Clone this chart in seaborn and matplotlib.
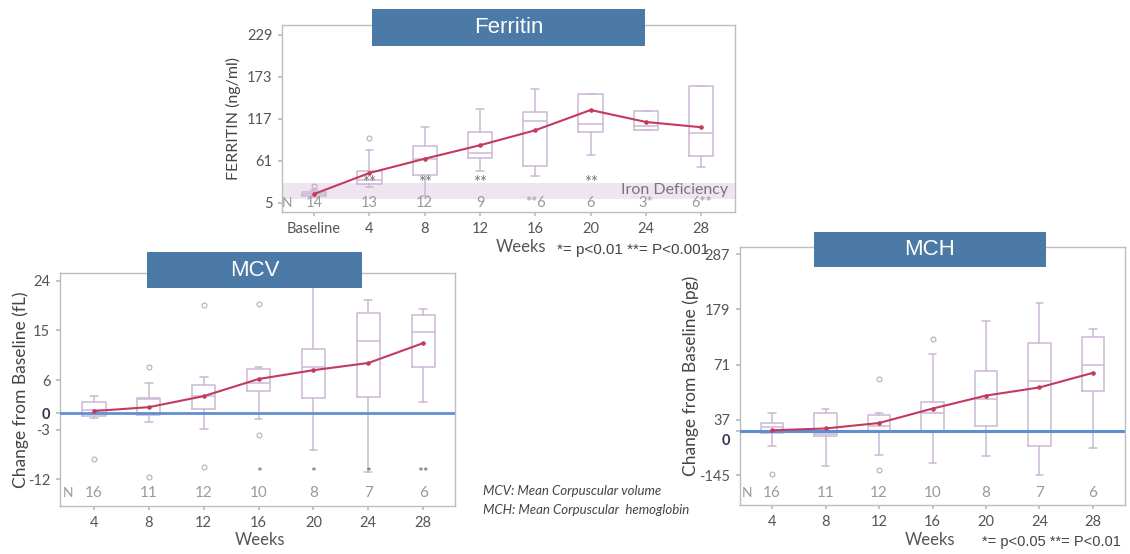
import numpy as np
import matplotlib
matplotlib.use("Agg")
import matplotlib.pyplot as plt
import matplotlib.transforms as mtransforms
import seaborn as sns
from matplotlib.patches import Rectangle

# ---------------- data ----------------
fer_weeks = ["Baseline", "4", "8", "12", "16", "20", "24", "28"]
fer_n = ["14", "13", "12", "9", "**6", "6", "3*", "6**"]
fer_stars = ["", "**", "**", "**", "", "**", "", ""]
fer_mean = [17, 45, 64, 82, 102, 129, 113, 106]
fer_med = [17, 36, 64, 72, 114, 110, 108, 98]
fer_q1 = [14, 30, 42, 65, 54, 100, 102, 68]
fer_q3 = [20, 48, 81, 100, 126, 150, 128, 161]
fer_wlo = [13, 26, 14, 48, 41, 69, 102, 53]
fer_whi = [22, 76, 106, 130, 157, 150, 128, 161]
fer_fliers = [[28], [92], [], [], [], [], [], []]
fer_yticks = [5, 61, 117, 173, 229]
iron_def = (10, 32)

mcv_weeks = ["4", "8", "12", "16", "20", "24", "28"]
mcv_n = ["16", "11", "12", "10", "8", "7", "6"]
mcv_stars = ["", "", "", "*", "*", "*", "**"]
mcv_mean = [0.4, 1.1, 3.1, 6.2, 7.8, 9.1, 12.7]
mcv_med = [0.6, 2.5, 3.1, 5.5, 8.4, 13.1, 14.7]
mcv_q1 = [-0.5, -0.3, 0.7, 4.0, 2.7, 2.9, 8.4]
mcv_q3 = [2.0, 2.7, 5.1, 8.0, 11.6, 18.1, 17.8]
mcv_wlo = [-0.9, -1.6, -2.9, -1.1, -6.7, -10.7, 2.0]
mcv_whi = [3.1, 5.5, 6.5, 8.4, 27.0, 20.5, 18.9]
mcv_fliers = [[-8.3], [8.4, -11.6], [19.6, -9.8], [19.8, -4.0], [], [], []]
mcv_yticks = [-12, -3, 0, 6, 15, 24]

mch_weeks = ["4", "8", "12", "16", "20", "24", "28"]
mch_n = ["16", "11", "12", "10", "8", "7", "6"]
mch_mean = [3, 9, 27, 44, 52, 57, 66]
mch_med = [14, -10, 18, 41, 50, 61, 71]
mch_q1 = [-6, -16, -2, -4, 18, -49, 55]
mch_q3 = [27, 41, 40, 48, 67, 113, 125]
mch_wlo = [-49, -115, -77, -104, -81, -143, -55]
mch_whi = [41, 44, 41, 91, 157, 191, 140]
mch_fliers = [[-140], [], [62, -129], [122], [], [], []]
mch_yticks = [-145, 0, 37, 71, 179, 287]
mch_anchor = [-145, 37, 71, 179, 287]   # axis labels equally spaced in the original

# ---------------- style ----------------
sns.set_theme(style="white")
plt.rcParams['font.family'] = ['Lato', 'DejaVu Sans']

BOX_C = "#cdb8d6"
MEAN_C = "#c23a5e"
BLUE_C = "#5f8fd3"
TITLE_C = "#4a7aa5"
SPINE_C = "#bdbdbd"
TICK_C = "#555555"
N_C = "#9a9a9a"

W, H = 1130, 554
fig = plt.figure(figsize=(W / 100, H / 100), dpi=100)


def rect(x0, y0, x1, y1):
    return [x0 / W, 1 - y1 / H, (x1 - x0) / W, (y1 - y0) / H]


def title_box(x0, y0, x1, y1, text, size):
    fig.add_artist(Rectangle((x0 / W, 1 - y1 / H), (x1 - x0) / W, (y1 - y0) / H,
                             transform=fig.transFigure, facecolor=TITLE_C,
                             edgecolor="none", zorder=5))
    fig.text((x0 + x1) / 2 / W, 1 - (y0 + y1) / 2 / H, text, color="white",
             fontsize=size, ha="center", va="center", zorder=6,
             family=["Liberation Sans", "DejaVu Sans"])


def draw_panel(ax, labels, q1, med, q3, wlo, whi, fliers, means, width):
    stats = []
    for i in range(len(labels)):
        stats.append(dict(q1=q1[i], med=med[i], q3=q3[i], whislo=wlo[i],
                          whishi=whi[i], fliers=fliers[i], label=labels[i]))
    pos = np.arange(len(labels))
    ax.bxp(stats, positions=pos, widths=width, capwidths=0.14,
           showfliers=True, patch_artist=False,
           boxprops=dict(color=BOX_C, lw=1.1),
           medianprops=dict(color=BOX_C, lw=1.1),
           whiskerprops=dict(color=BOX_C, lw=1.1),
           capprops=dict(color=BOX_C, lw=1.1),
           flierprops=dict(marker="o", markersize=3.5, markerfacecolor="none",
                           markeredgecolor="#b9aabf", markeredgewidth=0.8))
    sns.lineplot(x=pos, y=means, ax=ax, color=MEAN_C, lw=1.5, marker="o",
                 markersize=2.5, markeredgecolor=MEAN_C, zorder=4)
    ax.set_xticks(pos)
    ax.set_xticklabels(labels)
    for s in ax.spines.values():
        s.set_visible(True)
        s.set_color(SPINE_C)
        s.set_linewidth(1.0)
    ax.tick_params(axis="both", which="both", length=3, color=SPINE_C,
                   labelcolor=TICK_C, labelsize=10.5, bottom=True, left=True,
                   pad=4)
    ax.tick_params(axis="y", which="minor", left=False)


# ---------------- Ferritin ----------------
ax1 = fig.add_axes(rect(282, 25, 735, 212))
ax1.axhspan(iron_def[0], iron_def[1], color="#efe5f0", zorder=0, lw=0)
draw_panel(ax1, fer_weeks, fer_q1, fer_med, fer_q3, fer_wlo, fer_whi,
           fer_fliers, fer_mean, 0.44)
ax1.set_xlim(-0.58, 7.61)
ax1.set_ylim(-7.0, 242.3)
ax1.set_yticks(fer_yticks)
ax1.set_yticklabels([str(v) for v in fer_yticks])
ax1.set_ylabel("FERRITIN (ng/ml)", fontsize=11.5, color="#444444")
ax1.yaxis.set_label_coords(-0.091, 0.5)
ax1.set_xlabel("Weeks", fontsize=12, color="#555555")
ax1.xaxis.set_label_coords(0.528, -0.145)
ax1.text(-0.49, 5, "N", ha="center", va="center", color=N_C, fontsize=10)
for i, t in enumerate(fer_n):
    ax1.text(i, 5, t, ha="center", va="center", color=N_C, fontsize=10.5)
for i, t in enumerate(fer_stars):
    if t:
        ax1.text(i, 31, t, ha="center", va="center", color="#777777", fontsize=12)
ax1.text(7.49, 22, "Iron Deficiency", ha="right", va="center", color="#777777",
         fontsize=11.5)
title_box(372, 9, 645, 46, "Ferritin", 16)
fig.text(557 / W, 1 - 250 / H, "*= p<0.01 **= P<0.001", fontsize=11,
         color="#444444", ha="left", va="center",
         family=["Liberation Sans", "DejaVu Sans"])

# ---------------- MCV ----------------
ax2 = fig.add_axes(rect(60, 273, 455, 506))
ax2.axhline(0, color=BLUE_C, lw=2, zorder=3)
draw_panel(ax2, mcv_weeks, mcv_q1, mcv_med, mcv_q3, mcv_wlo, mcv_whi,
           mcv_fliers, mcv_mean, 0.42)
ax2.set_xlim(-0.62, 6.58)
ax2.set_ylim(-16.8, 25.4)
ax2.set_yticks(mcv_yticks)
ax2.set_yticklabels([str(v) for v in mcv_yticks])
ax2.set_ylabel("Change from Baseline (fL)", fontsize=12.5, color="#444444")
ax2.yaxis.set_label_coords(-0.078, 0.5)
ax2.set_xlabel("Weeks", fontsize=12, color="#555555")
ax2.xaxis.set_label_coords(0.506, -0.112)
ax2.text(-0.47, -14.5, "N", ha="center", va="center", color=N_C, fontsize=10)
for i, t in enumerate(mcv_n):
    ax2.text(i, -14.5, t, ha="center", va="center", color=N_C, fontsize=11)
for i, t in enumerate(mcv_stars):
    if t:
        ax2.text(i, -10.9, t, ha="center", va="center", color="#666666", fontsize=10)
title_box(147, 252, 362, 288, "MCV", 16)

# ---------------- MCH ----------------
xp = np.array(mch_anchor, float)
fp = np.arange(len(xp), dtype=float)


def mch_fwd(v):
    v = np.asarray(v, float)
    out = np.interp(v, xp, fp)
    out = np.where(v < xp[0], (v - xp[0]) / (xp[1] - xp[0]), out)
    out = np.where(v > xp[-1], fp[-1] + (v - xp[-1]) / (xp[-1] - xp[-2]), out)
    return out


def mch_inv(p):
    p = np.asarray(p, float)
    out = np.interp(p, fp, xp)
    out = np.where(p < 0, xp[0] + p * (xp[1] - xp[0]), out)
    out = np.where(p > fp[-1], xp[-1] + (p - fp[-1]) * (xp[-1] - xp[-2]), out)
    return out


ax3 = fig.add_axes(rect(740, 247, 1125, 505))
ax3.set_yscale("function", functions=(mch_fwd, mch_inv))
ax3.axhline(0, color=BLUE_C, lw=2.2, zorder=3)
draw_panel(ax3, mch_weeks, mch_q1, mch_med, mch_q3, mch_wlo, mch_whi,
           mch_fliers, mch_mean, 0.42)
ax3.set_xlim(-0.6, 6.6)
ax3.set_ylim(-243, 301)
ax3.set_yticks(mch_yticks)
ax3.set_yticklabels([str(v) for v in mch_yticks])
ax3.yaxis.set_minor_locator(matplotlib.ticker.NullLocator())
ax3.set_ylabel("Change from Baseline (pg)", fontsize=12.5, color="#444444")
ax3.yaxis.set_label_coords(-0.107, 0.5)
ax3.set_xlabel("Weeks", fontsize=12, color="#555555")
ax3.xaxis.set_label_coords(0.494, -0.105)
ax3.text(-0.47, -204, "N", ha="center", va="center", color=N_C, fontsize=10)
for i, t in enumerate(mch_n):
    ax3.text(i, -204, t, ha="center", va="center", color=N_C, fontsize=11)
title_box(814, 232, 1046, 267, "MCH", 16)
fig.text(982 / W, 1 - 542 / H, "*= p<0.05 **= P<0.01", fontsize=10.5,
         color="#444444", ha="left", va="center",
         family=["Liberation Sans", "DejaVu Sans"])

for ax, shift in ((ax2, 0), (ax3, -6)):
    for lab in ax.get_yticklabels():
        if lab.get_text() == "0":
            lab.set_fontweight("bold")
            lab.set_color("#3a3050")
            if shift:
                lab.set_transform(lab.get_transform() +
                                  mtransforms.ScaledTranslation(0, shift / 72,
                                                                fig.dpi_scale_trans))

# ---------------- captions ----------------
fig.text(483 / W, 1 - 491 / H, "MCV: Mean Corpuscular volume", fontsize=9.5,
         style="italic", color="#444444", ha="left", va="center")
fig.text(483 / W, 1 - 510 / H, "MCH: Mean Corpuscular  hemoglobin", fontsize=9.5,
         style="italic", color="#444444", ha="left", va="center")

fig.savefig("out.png", dpi=100)
